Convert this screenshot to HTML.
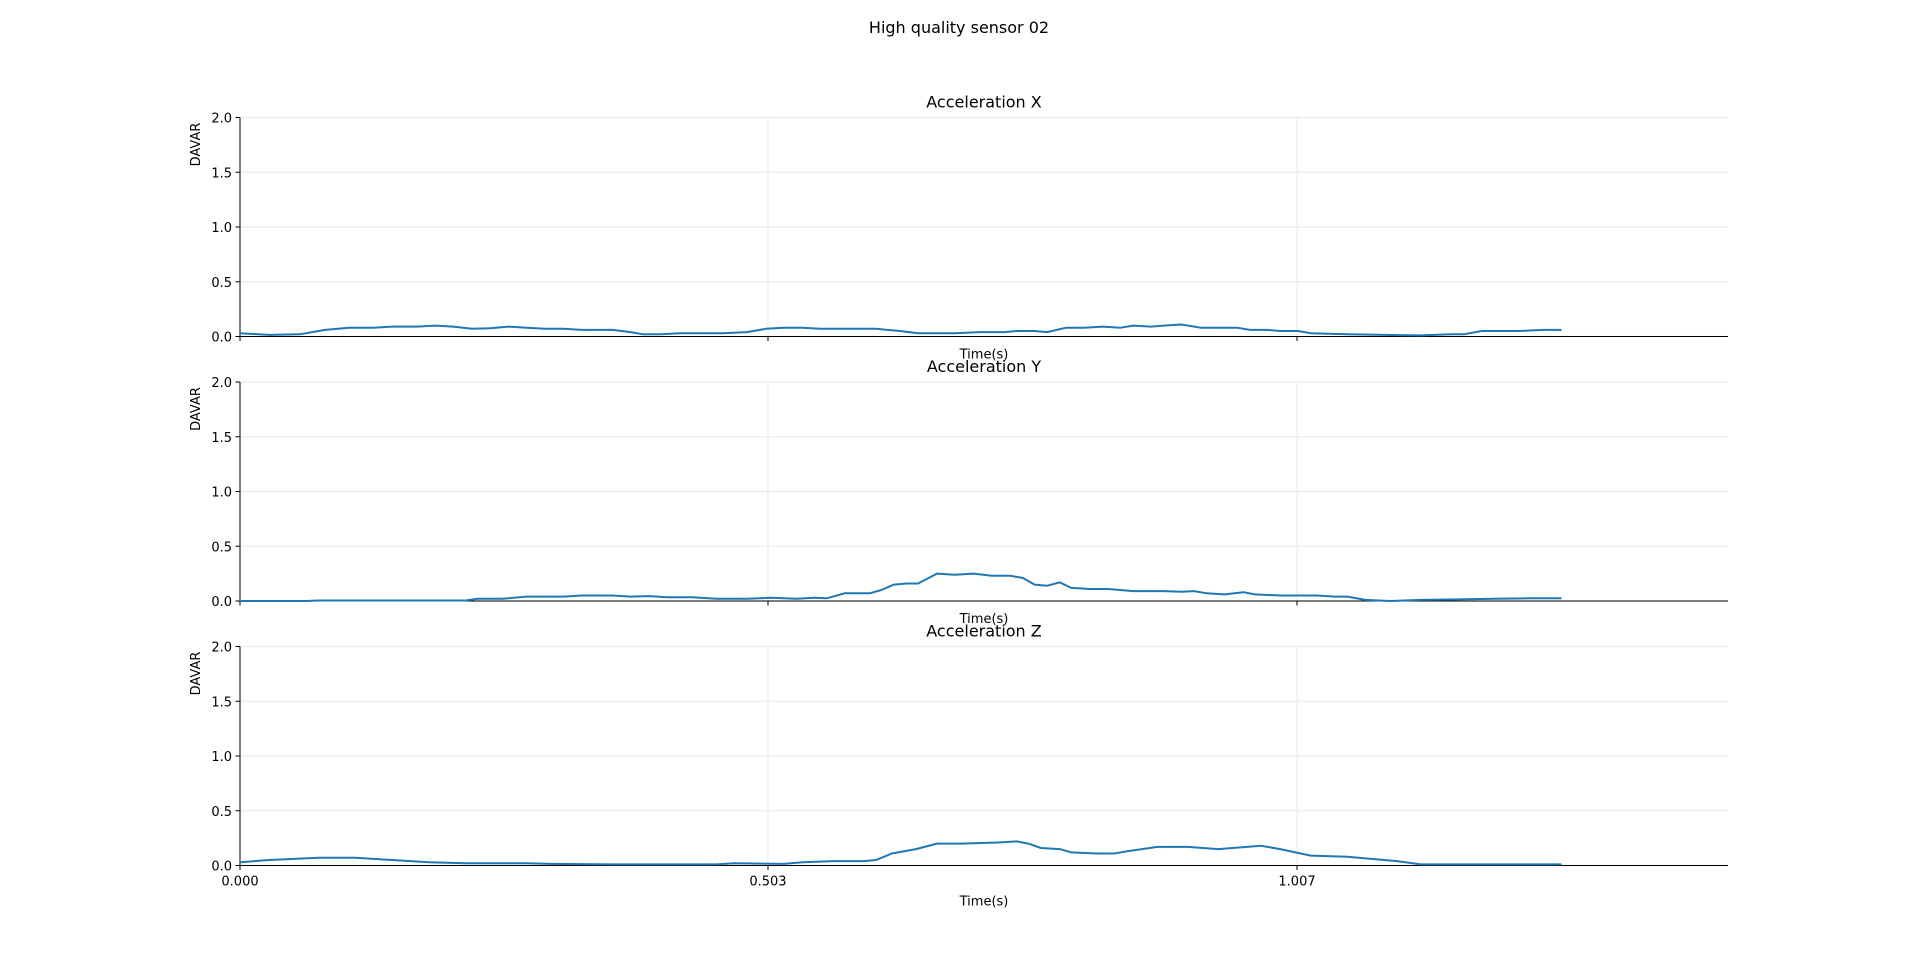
<!DOCTYPE html>
<html><head><meta charset="utf-8"><style>
html,body{margin:0;padding:0;background:#fff;}
svg{display:block;font-family:"DejaVu Sans","Liberation Sans",sans-serif;}
</style></head><body>
<svg id="fig" width="1920" height="973" viewBox="0 0 1920 973">
<text x="959" y="33" text-anchor="middle" font-size="16">High quality sensor 02</text>
</svg>
<script>
const xTickVals = [0, 0.503, 1.007];
const xTickLabels = ["0.000", "0.503", "1.007"];
const yTickVals = [0, 0.5, 1.0, 1.5, 2.0];
const yTickLabels = ["0.0", "0.5", "1.0", "1.5", "2.0"];
const panelTitles = ["Acceleration X", "Acceleration Y", "Acceleration Z"];

const timeX = [0,.028,.057,.081,.104,.127,.145,.168,.186,.203,.221,.238,.256,.273,.291,.308,.326,.355,.372,.384,.401,.419,.460,.483,.501,.518,.536,.553,.588,.606,.629,.646,.681,.705,.728,.740,.757,.769,.787,.804,.822,.839,.851,.868,.880,.897,.915,.932,.950,.962,.979,.991,1.008,1.020,1.055,1.090,1.125,1.154,1.166,1.183,1.218,1.242,1.259];
const accX = [0.03,0.015,0.02,0.06,0.08,0.08,0.09,0.09,0.10,0.09,0.07,0.075,0.09,0.08,0.07,0.07,0.06,0.06,0.04,0.02,0.02,0.03,0.03,0.04,0.07,0.08,0.08,0.07,0.07,0.07,0.05,0.03,0.03,0.04,0.04,0.05,0.05,0.04,0.08,0.08,0.09,0.08,0.10,0.09,0.10,0.11,0.08,0.08,0.08,0.06,0.06,0.05,0.05,0.03,0.02,0.015,0.01,0.02,0.02,0.05,0.05,0.06,0.06];

const timeY = [0,.063,.075,.121,.180,.215,.226,.250,.273,.308,.326,.355,.372,.390,.407,.431,.454,.483,.506,.530,.547,.559,.576,.600,.611,.623,.635,.646,.664,.681,.699,.716,.734,.746,.757,.769,.781,.792,.810,.827,.851,.880,.897,.909,.921,.938,.956,.967,.991,1.026,1.043,1.055,1.072,1.096,1.125,1.160,1.195,1.230,1.259];
const accY = [0,0,0.005,0.005,0.005,0.005,0.02,0.02,0.04,0.04,0.05,0.05,0.04,0.045,0.035,0.035,0.02,0.02,0.03,0.02,0.03,0.025,0.07,0.07,0.10,0.15,0.16,0.16,0.25,0.24,0.25,0.23,0.23,0.21,0.15,0.14,0.17,0.12,0.11,0.11,0.09,0.09,0.085,0.09,0.07,0.06,0.08,0.06,0.05,0.05,0.04,0.04,0.01,0,0.01,0.015,0.02,0.025,0.025];

const timeZ = [0,.028,.075,.110,.145,.180,.215,.273,.296,.355,.401,.454,.471,.518,.536,.565,.594,.606,.621,.644,.664,.687,.722,.740,.751,.763,.781,.792,.816,.833,.845,.874,.903,.932,.973,.991,1.020,1.055,1.102,1.125,1.172,1.259];
const accZ = [0.03,0.05,0.07,0.07,0.05,0.03,0.02,0.02,0.015,0.01,0.01,0.01,0.02,0.015,0.03,0.04,0.04,0.05,0.11,0.15,0.20,0.20,0.21,0.22,0.20,0.16,0.15,0.12,0.11,0.11,0.13,0.17,0.17,0.15,0.18,0.15,0.09,0.08,0.04,0.01,0.01,0.01];

const series = [[timeX, accX], [timeY, accY], [timeZ, accZ]];
const NS = "http://www.w3.org/2000/svg";
const svg = document.getElementById("fig");
const L = 240, R = 1728, xMax = 1.4176;
const tops = [117.5, 382, 646.5], H = 219, yMax = 2.0;
function sx(t){ return L + (t / xMax) * (R - L); }
function mk(tag, attrs, parent){
  const e = document.createElementNS(NS, tag);
  for (const k in attrs) e.setAttribute(k, attrs[k]);
  (parent || svg).appendChild(e);
  return e;
}
tops.forEach((top, p) => {
  const bot = top + H;
  const sy = v => bot - (v / yMax) * H;
  const g = mk("g", {});
  
  
  yTickVals.forEach((v, i) => {
    const gl = mk("line", {x1: L, x2: R, y1: sy(v), y2: sy(v), stroke: "#ebebeb", "stroke-width": 1.2}, g);
    
    
    const tk = mk("line", {x1: L - 4.5, x2: L, y1: sy(v), y2: sy(v), stroke: "#000", "stroke-width": 1}, g);
    
    
    const tl = mk("text", {x: L - 8, y: sy(v) + 5, "text-anchor": "end", "font-size": 13}, g);
    tl.textContent = yTickLabels[i];
    
    
  });
  xTickVals.forEach((v, i) => {
    const gl = mk("line", {x1: sx(v), x2: sx(v), y1: top, y2: bot, stroke: "#ebebeb", "stroke-width": 1.2}, g);
    
    
    const tk = mk("line", {x1: sx(v), x2: sx(v), y1: bot, y2: bot + 4.5, stroke: "#000", "stroke-width": 1}, g);
    
    
    if (p === 2) {
      const tl = mk("text", {x: sx(v), y: bot + 20, "text-anchor": "middle", "font-size": 13}, g);
      tl.textContent = xTickLabels[i];
      
      
    }
  });
  const ya = mk("line", {x1: L, x2: L, y1: top, y2: bot, stroke: "#000", "stroke-width": 1}, g);
  
  
  const xa = mk("line", {x1: L, x2: R, y1: bot, y2: bot, stroke: "#000", "stroke-width": 1}, g);
  
  
  const [ts, vs] = series[p];
  const pts = ts.map((t, i) => sx(t).toFixed(1) + "," + sy(vs[i]).toFixed(1)).join(" ");
  const ln = mk("polyline", {points: pts, fill: "none", stroke: "#1f77b4", "stroke-width": 2, "stroke-linejoin": "round"}, g);
  
  
  const tt = mk("text", {x: 984, y: top - 10, "text-anchor": "middle", "font-size": 16}, g);
  tt.textContent = panelTitles[p];
  
  
  const xl = mk("text", {x: 984, y: p === 2 ? bot + 40 : bot + 22, "text-anchor": "middle", "font-size": 13}, g);
  xl.textContent = "Time(s)";
  
  
  const yl = mk("text", {x: 0, y: 0, "text-anchor": "middle", "font-size": 13, transform: "translate(200," + (top + 27) + ") rotate(-90)"}, g);
  yl.textContent = "DAVAR";
  
  
});
</script>
</body></html>
